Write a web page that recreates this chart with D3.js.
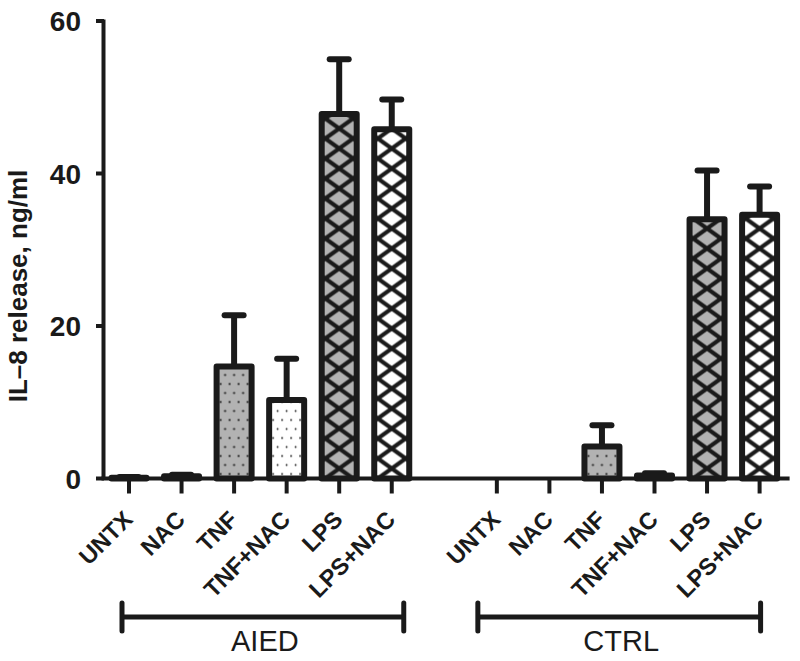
<!DOCTYPE html>
<html>
<head>
<meta charset="utf-8">
<script src="https://cdn.jsdelivr.net/npm/d3@7"></script>
<style>
  html, body { margin: 0; padding: 0; background: #fff; }
  svg { display: block; }
  text { font-family: "Liberation Sans", Arial, Helvetica, sans-serif; fill: #1a1a1a; }
</style>
</head>
<body>
<svg id="chart" width="800" height="661"></svg>
<script>
// ---------------- data ----------------
const groups = ["AIED", "CTRL"];
const treatments = ["UNTX", "NAC", "TNF", "TNF+NAC", "LPS", "LPS+NAC"];
const fills = ["none", "none", "dotsGray", "dotsWhite", "hatchGray", "hatchWhite"];
const aiedMeans = [0.1, 0.3, 14.7, 10.3, 47.8, 45.8];
const aiedErrors = [0.1, 0.2, 6.7, 5.4, 7.2, 3.9];
const ctrlMeans = [0, 0, 4.2, 0.4, 34.0, 34.6];
const ctrlErrors = [0, 0, 2.8, 0.3, 6.4, 3.7];
const yTicks = [0, 20, 40, 60];
const yTitle = "IL\u20138 release, ng/ml";

// ---------------- layout ----------------
const ink = "#1a1a1a";
const gray = "#b2b2b2";
const svg = d3.select("#chart");
const defs = svg.append("defs");

// slot keys: 6 AIED, one gap, 6 CTRL
const slots = [];
groups.forEach((g, gi) => {
  treatments.forEach(t => slots.push(g + "|" + t));
  if (gi === 0) slots.push("gap");
});
const x = d3.scalePoint().domain(slots).range([129, 759.6]);
const y = d3.scaleLinear().domain([0, 60]).range([478.5, 21]);

const rows = [];
groups.forEach((g, gi) => {
  const means = gi === 0 ? aiedMeans : ctrlMeans;
  const errs = gi === 0 ? aiedErrors : ctrlErrors;
  treatments.forEach((t, ti) => {
    rows.push({ group: g, treat: t, key: g + "|" + t, mean: means[ti], err: errs[ti], fill: fills[ti], id: gi * 6 + ti });
  });
});

const barW = 35, barStroke = 6;

// ---------------- patterns ----------------
function makePattern(d) {
  const id = "pat" + d.id;
  const cx = x(d.key);
  if (d.fill === "dotsGray" || d.fill === "dotsWhite") {
    const p = defs.append("pattern").attr("id", id)
      .attr("patternUnits", "userSpaceOnUse")
      .attr("x", cx - 13.5).attr("y", y(0)).attr("width", 9).attr("height", 18);
    p.append("rect").attr("width", 9).attr("height", 18)
      .attr("fill", d.fill === "dotsGray" ? gray : "#fff");
    const r = d.fill === "dotsGray" ? 1.1 : 0.9;
    p.append("circle").attr("cx", 4.5).attr("cy", 4.5).attr("r", r).attr("fill", ink);
    p.append("circle").attr("cx", 0).attr("cy", 13.5).attr("r", r).attr("fill", ink);
    p.append("circle").attr("cx", 9).attr("cy", 13.5).attr("r", r).attr("fill", ink);
  } else if (d.fill === "hatchGray" || d.fill === "hatchWhite") {
    const pw = 28, ph = 20;
    const p = defs.append("pattern").attr("id", id)
      .attr("patternUnits", "userSpaceOnUse")
      .attr("x", cx - pw / 2).attr("y", y(0)).attr("width", pw).attr("height", ph);
    p.append("rect").attr("width", pw).attr("height", ph)
      .attr("fill", d.fill === "hatchGray" ? gray : "#fff");
    let dp = "";
    [-1, 0, 1].forEach(k => {
      dp += `M${k * pw},0L${k * pw + pw},${ph}`;
      dp += `M${k * pw + pw},0L${k * pw},${ph}`;
    });
    p.append("path").attr("d", dp).attr("stroke", ink).attr("stroke-width", 4.2).attr("fill", "none");
  }
  return "url(#" + id + ")";
}

// ---------------- axes ----------------
svg.append("line")
  .attr("x1", 103.5).attr("x2", 103.5)
  .attr("y1", y(60) - 1.5).attr("y2", y(0) + 1.5)
  .attr("stroke", ink).attr("stroke-width", 4);
const yt = svg.append("g").selectAll("g").data(yTicks).join("g")
  .attr("transform", d => `translate(0,${y(d)})`);
yt.append("line").attr("x1", 96).attr("x2", 104).attr("stroke", ink).attr("stroke-width", 4);
yt.append("text").attr("x", 81).attr("dy", "0.36em")
  .attr("text-anchor", "end").attr("font-size", 28).attr("font-weight", "bold")
  .text(d => d);

svg.append("text")
  .attr("transform", `translate(27,286) rotate(-90)`)
  .attr("text-anchor", "middle").attr("font-size", 26).attr("font-weight", "bold")
  .text(yTitle);

svg.append("line")
  .attr("x1", 101.5).attr("x2", x(slots[slots.length - 1]) + 30)
  .attr("y1", y(0)).attr("y2", y(0))
  .attr("stroke", ink).attr("stroke-width", 4);

const xt = svg.append("g").selectAll("g").data(rows).join("g");
xt.append("line")
  .attr("x1", d => x(d.key)).attr("x2", d => x(d.key))
  .attr("y1", y(0)).attr("y2", y(0) + 15)
  .attr("stroke", ink).attr("stroke-width", 4);
xt.append("text")
  .attr("transform", d => `translate(${x(d.key) + 5},521) rotate(-45)`)
  .attr("text-anchor", "end").attr("font-size", 23.5).attr("font-weight", "bold")
  .text(d => d.treat);

// ---------------- bars ----------------
const barRows = rows.filter(d => d.mean > 0);

const eb = svg.append("g").selectAll("g").data(barRows).join("g");
eb.append("line")
  .attr("x1", d => x(d.key)).attr("x2", d => x(d.key))
  .attr("y1", d => y(d.mean)).attr("y2", d => y(d.mean + d.err))
  .attr("stroke", ink).attr("stroke-width", 6);
eb.append("line")
  .attr("x1", d => x(d.key) - 9.5).attr("x2", d => x(d.key) + 9.5)
  .attr("y1", d => y(d.mean + d.err)).attr("y2", d => y(d.mean + d.err))
  .attr("stroke", ink).attr("stroke-width", 6).attr("stroke-linecap", "round");

svg.append("g").selectAll("rect").data(barRows).join("rect")
  .attr("x", d => x(d.key) - barW / 2)
  .attr("width", barW)
  .attr("y", d => y(d.mean))
  .attr("height", d => y(0) - y(d.mean))
  .attr("fill", d => d.fill === "none" ? "#fff" : makePattern(d))
  .attr("stroke", ink).attr("stroke-width", barStroke)
  .attr("stroke-linejoin", "round");

// ---------------- group brackets ----------------
const brackets = [
  { label: groups[0], from: x("AIED|UNTX") - 7, to: x("AIED|LPS+NAC") + 12 },
  { label: groups[1], from: x("CTRL|UNTX") - 19, to: x("CTRL|LPS+NAC") + 1 }
];
const bg = svg.append("g").selectAll("g").data(brackets).join("g");
bg.append("line").attr("x1", d => d.from).attr("x2", d => d.to)
  .attr("y1", 617).attr("y2", 617).attr("stroke", ink).attr("stroke-width", 5);
bg.append("line").attr("x1", d => d.from).attr("x2", d => d.from)
  .attr("y1", 603).attr("y2", 631).attr("stroke", ink).attr("stroke-width", 5).attr("stroke-linecap", "round");
bg.append("line").attr("x1", d => d.to).attr("x2", d => d.to)
  .attr("y1", 603).attr("y2", 631).attr("stroke", ink).attr("stroke-width", 5).attr("stroke-linecap", "round");
bg.append("text").attr("x", d => (d.from + d.to) / 2 + 2).attr("y", 651)
  .attr("text-anchor", "middle").attr("font-size", 29)
  .text(d => d.label);
</script>
</body>
</html>
